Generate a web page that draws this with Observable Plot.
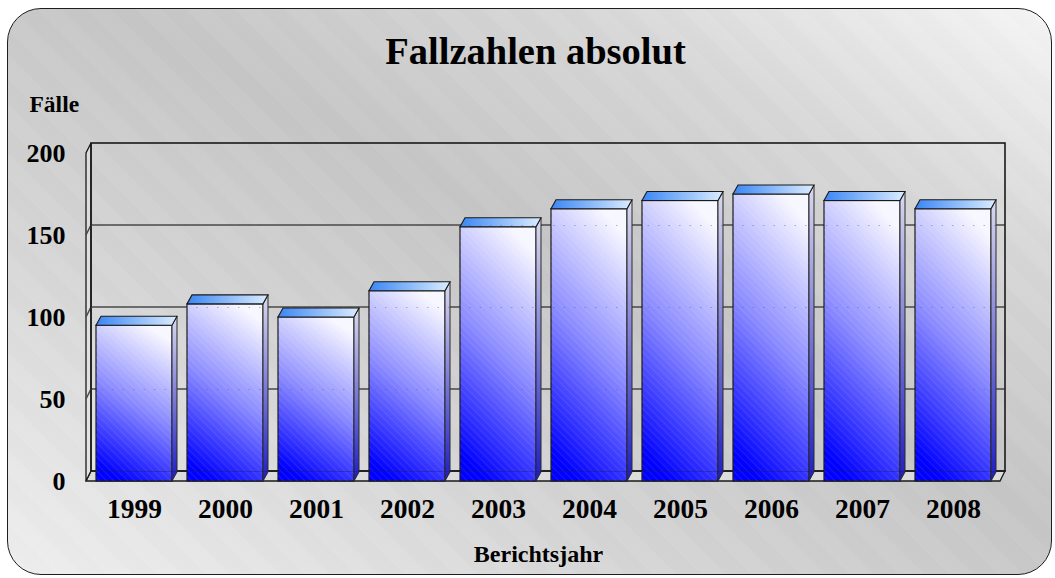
<!DOCTYPE html>
<html><head><meta charset="utf-8">
<script src="https://cdn.jsdelivr.net/npm/d3@7"></script>
<script src="https://cdn.jsdelivr.net/npm/@observablehq/plot@0.6"></script>
<style>
html,body{margin:0;padding:0;background:#fff;}
#wrap{position:relative;width:1055px;height:578px;overflow:hidden;}
#panel{position:absolute;left:7px;top:8px;width:1045px;height:567px;box-sizing:border-box;border:1.5px solid #1e1e1e;border-radius:34px;
 background:
  repeating-linear-gradient(45deg, rgba(255,255,255,0.025) 0px, rgba(255,255,255,0.025) 17px, rgba(0,0,0,0.008) 18px, rgba(0,0,0,0.008) 35px),
  linear-gradient(to top right, #efefef 0%, #d6d6d6 30%, #c6c6c6 55%, #d8d8d8 78%, #f6f6f6 100%);}
#chart{position:absolute;left:0;top:0;}
</style></head><body>
<div id="wrap"><div id="panel"></div><div id="chart"></div></div>
<script>
// ---- data ----
const years = ["1999","2000","2001","2002","2003","2004","2005","2006","2007","2008"];
const cases = [95, 108, 100, 116, 155, 166, 171, 175, 171, 166];
const yTicks = [0, 50, 100, 150, 200];
const gridValues = [50, 100, 150];
const titleText = "Fallzahlen absolut";
const yTitle = "Fälle";
const xTitle = "Berichtsjahr";

const data = years.map((year, i) => ({year, value: cases[i]}));

// 3D depth (pixels)
const DX = 5, DY = -10, BDY = -9;

function pts(arr) { return arr.map(p => p.join(",")).join(" "); }

function wallsRender(index, scales, values, dims) {
  const y = scales.y;
  const x0 = dims.marginLeft, x1 = dims.width - dims.marginRight;
  const yb = y(0), yt = y(200);
  const g = d3.create("svg:g");
  // floor
  g.append("polygon").attr("points", pts([[x0,yb],[x1,yb],[x1+DX,yb+DY],[x0+DX,yb+DY]]))
    .attr("fill", "#dcdcdc").attr("stroke", "#1a1a1a").attr("stroke-width", 1.3);
  // left wall
  g.append("polygon").attr("points", pts([[x0,yb],[x0,yt],[x0+DX,yt+DY],[x0+DX,yb+DY]]))
    .attr("fill", "#e4e4e4").attr("fill-opacity", 0.6).attr("stroke", "#1a1a1a").attr("stroke-width", 1.3);
  // gridlines
  for (const v of gridValues) {
    const yy = y(v);
    g.append("polyline").attr("points", pts([[x0,yy],[x0+DX,yy+DY],[x1+DX,yy+DY]]))
      .attr("fill", "none").attr("stroke", "#4a4a4a").attr("stroke-width", 1.5);
  }
  // back wall outline
  g.append("rect").attr("x", x0+DX).attr("y", yt+DY).attr("width", x1-x0).attr("height", yb-yt)
    .attr("fill", "none").attr("stroke", "#1a1a1a").attr("stroke-width", 1.6);
  return g.node();
}

function barsRender(index, scales, values, dims, context, next) {
  const g = next(index, scales, values, dims, context);
  const sel = d3.select(g);
  const rects = sel.selectAll("rect").nodes();
  for (const r of rects) {
    const x = +r.getAttribute("x"), y = +r.getAttribute("y");
    const w = +r.getAttribute("width"), h = +r.getAttribute("height");
    sel.append("rect").attr("x", x).attr("y", y).attr("width", w).attr("height", h)
      .attr("fill", "url(#hatch)").attr("stroke", "none");
    sel.append("polygon").attr("points", pts([[x+w,y],[x+w+DX,y+BDY],[x+w+DX,y+h+BDY],[x+w,y+h]]))
      .attr("fill", "url(#sideG)").attr("stroke", "#2a2a2a").attr("stroke-width", 1);
    sel.append("polygon").attr("points", pts([[x,y],[x+DX,y+BDY],[x+w+DX,y+BDY],[x+w,y]]))
      .attr("fill", "url(#topG)").attr("stroke", "#1a1a1a").attr("stroke-width", 1.1);
  }
  return g;
}

const chart = Plot.plot({
  width: 1055,
  height: 578,
  marginLeft: 86,
  marginRight: 55,
  marginTop: 153,
  marginBottom: 97,
  style: {fontFamily: "'Liberation Serif','Times New Roman',serif", fontWeight: "bold", color: "#000", background: "transparent", overflow: "visible"},
  x: {type: "band", domain: years, paddingInner: 0.17, paddingOuter: 0.077, label: null},
  y: {domain: [0, 200], label: null},
  marks: [
    Plot.ruleY(yTicks, {y: d => d, render: wallsRender}),
    Plot.barY(data, {x: "year", y: "value", fill: "url(#frontG)", stroke: "#1a1a1a", strokeWidth: 1.2, render: barsRender}),
    Plot.ruleY(gridValues, {y: d => d, dx: DX, dy: DY, stroke: "#5a5a8a", strokeOpacity: 0.45, strokeDasharray: "1.5 9"}),
    Plot.ruleY([0], {y: d => d, dx: DX, dy: DY, stroke: "#202040", strokeOpacity: 0.35, strokeWidth: 1}),
    Plot.axisY({ticks: yTicks, tickSize: 0, tickPadding: 21, fontSize: 26, label: null}),
    Plot.axisX({tickSize: 0, tickPadding: 17, fontSize: 27.5, label: null}),
    Plot.text([titleText], {text: d => d, frameAnchor: "top", dx: -8, dy: -90, lineAnchor: "bottom", fontSize: 38.5}),
    Plot.text([yTitle], {text: d => d, frameAnchor: "top-left", textAnchor: "start", dx: -57, dy: -42, lineAnchor: "bottom", fontSize: 23.5}),
    Plot.text([xTitle], {text: d => d, frameAnchor: "bottom", dx: -5, dy: 80, lineAnchor: "bottom", fontSize: 24})
  ]
});

// gradient definitions
const defs = d3.select(chart).insert("defs", ":first-child");
const fg = defs.append("linearGradient").attr("id", "frontG").attr("x1", 0.35).attr("y1", 1).attr("x2", 0.65).attr("y2", 0);
fg.append("stop").attr("offset", 0).attr("stop-color", "#0000ff");
fg.append("stop").attr("offset", 0.5).attr("stop-color", "#8a8aff");
fg.append("stop").attr("offset", 1).attr("stop-color", "#f7f7ff");
const sg = defs.append("linearGradient").attr("id", "sideG").attr("x1", 0).attr("y1", 1).attr("x2", 0).attr("y2", 0);
sg.append("stop").attr("offset", 0).attr("stop-color", "#1c1cc8");
sg.append("stop").attr("offset", 0.5).attr("stop-color", "#7a7ad6");
sg.append("stop").attr("offset", 1).attr("stop-color", "#dadaee");
const tg = defs.append("linearGradient").attr("id", "topG").attr("x1", 0).attr("y1", 0).attr("x2", 1).attr("y2", 0);
tg.append("stop").attr("offset", 0).attr("stop-color", "#3a86f4");
tg.append("stop").attr("offset", 1).attr("stop-color", "#dcedff");
const hp = defs.append("pattern").attr("id", "hatch").attr("patternUnits", "userSpaceOnUse")
  .attr("width", 5).attr("height", 5).attr("patternTransform", "rotate(-45)");
hp.append("line").attr("x1", 0).attr("y1", 0).attr("x2", 0).attr("y2", 5)
  .attr("stroke", "#ffffff").attr("stroke-opacity", 0.18).attr("stroke-width", 1);

document.getElementById("chart").appendChild(chart);
</script>
</body></html>
